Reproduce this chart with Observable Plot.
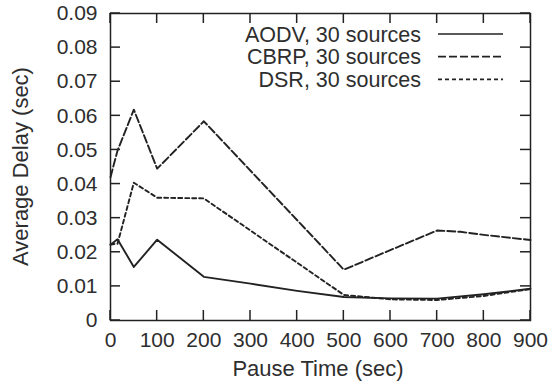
<!DOCTYPE html>
<html><head><meta charset="utf-8">
<script src="https://cdn.jsdelivr.net/npm/d3@7"></script>
<script src="https://cdn.jsdelivr.net/npm/@observablehq/plot@0.6"></script>
<style>
html,body{margin:0;padding:0;background:#fff;}
#chart{position:relative;width:549px;height:391px;}
</style></head><body><div id="chart"></div>
<script>
// ---- data ----
const pauseAODV = [0, 15, 50, 100, 200, 300, 400, 500, 600, 700, 800, 900];
const delayAODV = [0.0222, 0.0238, 0.0157, 0.0237, 0.0128, 0.0108, 0.0087, 0.0069, 0.0065, 0.0064, 0.0077, 0.0093];
const pauseCBRP = [0, 15, 50, 100, 200, 500, 700, 750, 800, 900];
const delayCBRP = [0.0420, 0.0498, 0.0618, 0.0445, 0.0584, 0.0149, 0.0264, 0.0260, 0.0251, 0.0236];
const pauseDSR = [0, 15, 50, 100, 200, 500, 600, 700, 800, 900];
const delayDSR = [0.0223, 0.0225, 0.0404, 0.0360, 0.0358, 0.0075, 0.0062, 0.0060, 0.0072, 0.0092];
const seriesNames = ["AODV, 30 sources", "CBRP, 30 sources", "DSR, 30 sources"];
const xTicks = [0, 100, 200, 300, 400, 500, 600, 700, 800, 900];
const yTicks = [0, 0.01, 0.02, 0.03, 0.04, 0.05, 0.06, 0.07, 0.08, 0.09];
const xTitle = "Pause Time (sec)";
const yTitle = "Average Delay (sec)";

// ---- build table ----
const rows = [];
[[pauseAODV, delayAODV], [pauseCBRP, delayCBRP], [pauseDSR, delayDSR]].forEach(([xs, ys], i) => {
  xs.forEach((x, j) => rows.push({series: seriesNames[i], pause: x, delay: ys[j]}));
});
const dashFor = {[seriesNames[0]]: null, [seriesNames[1]]: "8,3", [seriesNames[2]]: "4,3"};

const font = "'Liberation Sans', Arial, Helvetica, sans-serif";
const ink = "#222";
const textInk = "#2e2e2e";
const M = {top: 13, right: 19, bottom: 71, left: 110};
const W = 549, H = 391;
const FW = W - M.left - M.right, FH = H - M.top - M.bottom;
const TL = 10; // inward tick length (px)

const lineMarks = seriesNames.map(name =>
  Plot.line(rows.filter(r => r.series === name), {
    x: "pause", y: "delay", stroke: ink, strokeWidth: 1.9,
    strokeDasharray: dashFor[name]
  })
);

const plot = Plot.plot({
  width: W, height: H,
  marginTop: M.top, marginRight: M.right, marginBottom: M.bottom, marginLeft: M.left,
  style: {fontFamily: font, fontSize: "21px", color: textInk, background: "#fff", overflow: "visible"},
  x: {domain: [0, 900]},
  y: {domain: [0, 0.09]},
  marks: [
    ...lineMarks,
    Plot.axisX(xTicks, {anchor: "bottom", tickSize: 0, tickPadding: 12, label: null, fontSize: 21, fill: textInk}),
    Plot.axisY(yTicks, {anchor: "left", tickSize: 0, tickPadding: 13, label: null, fontSize: 21, fill: textInk,
      tickFormat: d => d === 0 ? "0" : d.toFixed(2)}),
    Plot.frame({stroke: ink, strokeWidth: 1.5})
  ]
});
document.getElementById("chart").appendChild(plot);

// ---- inward ticks on all four sides, positioned through Plot's own scales ----
const svg = d3.select(plot);
const sx = plot.scale("x"), sy = plot.scale("y");
const fTop = M.top, fBottom = H - M.bottom, fLeft = M.left, fRight = W - M.right;
const gt = svg.append("g").attr("stroke", ink).attr("stroke-width", 1.5);
xTicks.forEach(v => {
  const x = sx.apply(v);
  gt.append("line").attr("x1", x).attr("x2", x).attr("y1", fBottom).attr("y2", fBottom - TL);
  gt.append("line").attr("x1", x).attr("x2", x).attr("y1", fTop).attr("y2", fTop + TL);
});
yTicks.forEach(v => {
  const y = sy.apply(v);
  gt.append("line").attr("x1", fLeft).attr("x2", fLeft + TL).attr("y1", y).attr("y2", y);
  gt.append("line").attr("x1", fRight).attr("x2", fRight - TL).attr("y1", y).attr("y2", y);
});

// ---- titles and legend ----
const cx = M.left + FW / 2;
const cy = M.top + FH / 2;
svg.append("text").attr("x", cx - 2).attr("y", 376)
  .attr("text-anchor", "middle").attr("fill", textInk)
  .style("font-family", font).style("font-size", "22px").text(xTitle);
svg.append("text").attr("transform", `translate(28,${cy}) rotate(-90)`)
  .attr("text-anchor", "middle").attr("fill", textInk)
  .style("font-family", font).style("font-size", "22px").text(yTitle);

const legX = 421, legY0 = 34, legDY = 22.7, sampleX1 = 438, sampleX2 = 503;
seriesNames.forEach((name, i) => {
  const y = legY0 + i * legDY;
  svg.append("text").attr("x", legX).attr("y", y).attr("dy", "0.35em")
    .attr("text-anchor", "end").attr("fill", textInk)
    .style("font-family", font).style("font-size", "21.5px").text(name);
  svg.append("line").attr("x1", sampleX1).attr("x2", sampleX2).attr("y1", y).attr("y2", y)
    .attr("stroke", ink).attr("stroke-width", 1.7)
    .attr("stroke-dasharray", dashFor[name]);
});
</script></body></html>
